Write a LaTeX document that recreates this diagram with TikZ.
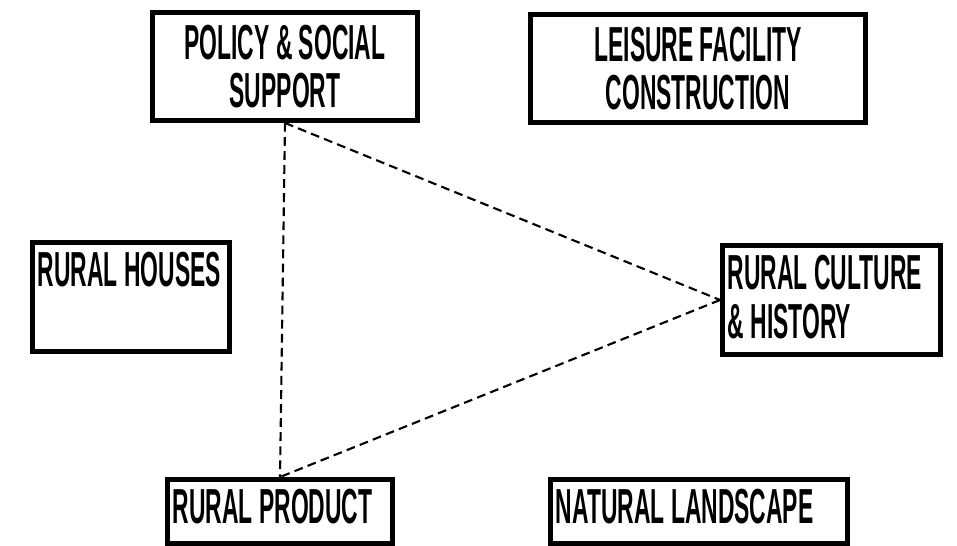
\documentclass[tikz,border=0pt]{standalone}
\usepackage{fontspec}
\usepackage{tikz}
\usetikzlibrary{positioning}
\newfontfamily\boxfont{Liberation Sans}[FakeStretch=0.465]

\begin{document}
\begin{tikzpicture}[
    factor/.style={draw, rectangle, line width=2.8pt, inner sep=0pt,
        font=\boxfont\bfseries\fontsize{28}{27.5}\selectfont, align=center},
    topleft/.style={anchor=north west, inner sep=0pt, xshift=0.15cm, yshift=-0.24cm,
        font=\boxfont\bfseries\fontsize{28}{27.5}\selectfont, align=left},
    link/.style={line width=1.2pt, dash pattern=on 5pt off 3pt}
]
        \useasboundingbox (0,0) rectangle (19.14,10.92);
        % Top row
        \node [factor, minimum width=5.30cm, minimum height=2.16cm] (policy) at (5.70,9.59) {POLICY \& SOCIAL\\SUPPORT};
        \node [factor, minimum width=6.70cm, minimum height=2.16cm] (leisure) at (13.96,9.55) {LEISURE FACILITY\\CONSTRUCTION};
        % Middle row
        \node [factor, minimum width=3.94cm, minimum height=2.18cm,
            label={[topleft]north west:RURAL HOUSES}] (houses) at (2.62,4.98) {};
        \node [factor, minimum width=4.36cm, minimum height=2.18cm,
            label={[topleft]north west:RURAL CULTURE\\\& HISTORY}] (culture) at (16.63,4.92) {};
        % Bottom row
        \node [factor, minimum width=4.50cm, minimum height=1.28cm,
            label={[topleft]north west:RURAL PRODUCT}] (product) at (5.60,0.69) {};
        \node [factor, minimum width=5.94cm, minimum height=1.28cm,
            label={[topleft]north west:NATURAL LANDSCAPE}] (landscape) at (13.98,0.69) {};
        % Dashed triangle
        \draw [link] (policy.south) -- (product.north);
        \draw [link] (policy.south) -- (culture.west);
        \draw [link] (culture.west) -- (product.north);
    \end{tikzpicture}
\end{document}
